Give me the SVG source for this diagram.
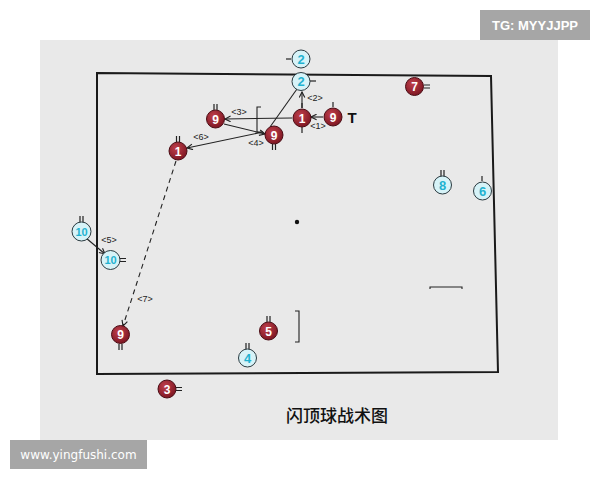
<svg xmlns="http://www.w3.org/2000/svg" width="600" height="480" viewBox="0 0 600 480">
<defs>
<marker id="ah" viewBox="0 0 10 10" refX="9" refY="5" markerWidth="7" markerHeight="7" orient="auto" markerUnits="userSpaceOnUse">
<path d="M1,1 L9,5 L1,9" fill="none" stroke="#222" stroke-width="1.6"/>
</marker>
<radialGradient id="rg" cx="40%" cy="35%" r="70%">
<stop offset="0" stop-color="#c0404c"/>
<stop offset="1" stop-color="#7a1420"/>
</radialGradient>
</defs>
<style>
.red circle{fill:url(#rg);stroke:#4a0c14;stroke-width:1}
.cy circle{fill:#d6f3f8;stroke:#2a3a40;stroke-width:1}
.red text{fill:#fff;font:bold 12px "Liberation Sans",Arial,sans-serif;text-anchor:middle}
.cy text{fill:#1fb2d0;font:bold 13px "Liberation Sans",Arial,sans-serif;text-anchor:middle}
.tk{stroke:#222;stroke-width:1.2;fill:none}
.ln{stroke:#222;stroke-width:1.1;fill:none}
.lb{font:9px "Liberation Sans",Arial,sans-serif;fill:#222;text-anchor:middle}
</style>
<rect x="0" y="0" width="600" height="480" fill="#fff"/>
<rect x="40" y="40" width="518" height="400" fill="#e9e9e9"/>
<g id="court">
<polygon points="97,73 491,76 498,372 97,374" fill="none" stroke="#1a1a1a" stroke-width="2"/>
<circle cx="297" cy="222" r="2.2" fill="#111"/>
<path class="ln" d="M430,289 L430,287 L462,287 L462,289" stroke-width="1.6"/>
<path class="ln" d="M261,107 L257,107 L257,132 L261,132" stroke-width="1.4"/>
<path class="ln" d="M295,311 L299,311 L299,342 L295,342" stroke-width="1.4"/>
</g>
<g id="connectors">
<line class="ln" x1="302" y1="108" x2="302" y2="92" marker-end="url(#ah)"/>
<line class="ln" x1="323" y1="117" x2="311" y2="117" marker-end="url(#ah)"/>
<line class="ln" x1="292" y1="118" x2="225" y2="119" marker-end="url(#ah)"/>
<line class="ln" x1="224" y1="124" x2="265" y2="134" marker-end="url(#ah)"/>
<line class="ln" x1="270" y1="127" x2="297" y2="89"/>
<line class="ln" x1="263" y1="132" x2="187" y2="148" marker-end="url(#ah)"/>
<line class="ln" x1="86" y1="238" x2="105" y2="254" marker-end="url(#ah)"/>
<line class="ln" x1="176" y1="161" x2="123" y2="326" stroke-dasharray="5,4" marker-end="url(#ah)"/>
<text class="lb" x="315" y="101">&lt;2&gt;</text>
<text class="lb" x="318" y="129">&lt;1&gt;</text>
<text class="lb" x="239" y="115">&lt;3&gt;</text>
<text class="lb" x="256" y="146">&lt;4&gt;</text>
<text class="lb" x="201" y="140">&lt;6&gt;</text>
<text class="lb" x="109" y="243">&lt;5&gt;</text>
<text class="lb" x="145" y="302">&lt;7&gt;</text>
</g>
<g id="n2a" class="cy"><path class="tk" d="M286,59 L291,59"/><circle cx="301" cy="59" r="9"/><text x="301" y="63.5">2</text></g>
<g id="n2b" class="cy"><path class="tk" d="M310,81 L316,81"/><circle cx="301" cy="81.5" r="9"/><text x="301" y="86">2</text></g>
<g id="n1a" class="red"><path class="tk" d="M302,103 L302,108 M302,127 L302,133"/><circle cx="302" cy="118" r="9"/><text x="302" y="122.5">1</text></g>
<g id="n9a" class="red"><path class="tk" d="M333,102 L333,107"/><circle cx="333" cy="117" r="9"/><text x="333" y="121.5">9</text></g>
<text x="352" y="123" font-family="Liberation Sans,Arial,sans-serif" font-weight="bold" font-size="15" fill="#111" text-anchor="middle">T</text>
<g id="n9b" class="red"><path class="tk" d="M214,104 L214,110 M217,104 L217,110"/><circle cx="215.5" cy="119" r="9"/><text x="215.5" y="123.5">9</text></g>
<g id="n9c" class="red"><path class="tk" d="M272.5,144 L272.5,150 M275.5,144 L275.5,150"/><circle cx="274" cy="135" r="9"/><text x="274" y="139.5">9</text></g>
<g id="n1b" class="red"><path class="tk" d="M176.5,136 L176.5,142 M179.5,136 L179.5,142"/><circle cx="178" cy="151" r="9"/><text x="178" y="155.5">1</text></g>
<g id="n7" class="red"><path class="tk" d="M424,85 L430,85 M424,88 L430,88"/><circle cx="414.5" cy="86.5" r="9"/><text x="414.5" y="91">7</text></g>
<g id="n8" class="cy"><path class="tk" d="M441,170 L441,176 M444,170 L444,176"/><circle cx="442.5" cy="185" r="9"/><text x="442.5" y="189.5">8</text></g>
<g id="n6" class="cy"><path class="tk" d="M482,176 L482,181"/><circle cx="482.5" cy="191" r="9"/><text x="482.5" y="195.5">6</text></g>
<g id="n10a" class="cy"><path class="tk" d="M80,216 L80,222 M83,216 L83,222"/><circle cx="81.5" cy="231.5" r="9.5"/><text x="81.5" y="235.5" style="font-size:11px">10</text></g>
<g id="n10b" class="cy"><path class="tk" d="M120,258.5 L126,258.5 M120,261.5 L126,261.5"/><circle cx="110.5" cy="260" r="9.5"/><text x="110.5" y="264" style="font-size:11px">10</text></g>
<g id="n9d" class="red"><path class="tk" d="M119,344 L119,350 M122,344 L122,350"/><circle cx="120.5" cy="334.5" r="9"/><text x="120.5" y="339">9</text></g>
<g id="n5" class="red"><path class="tk" d="M267,316 L267,322 M270,316 L270,322"/><circle cx="268.5" cy="331" r="9"/><text x="268.5" y="335.5">5</text></g>
<g id="n4" class="cy"><path class="tk" d="M246,343 L246,349 M249,343 L249,349"/><circle cx="247.5" cy="358" r="9"/><text x="247.5" y="362.5">4</text></g>
<g id="n3" class="red"><path class="tk" d="M176,387.5 L182,387.5 M176,390.5 L182,390.5"/><circle cx="167" cy="389" r="9"/><text x="167" y="393.5">3</text></g>
<text x="337" y="422" font-family="Noto Sans CJK SC,sans-serif" font-size="17" font-weight="500" fill="#111" text-anchor="middle">闪顶球战术图</text>
<rect x="480" y="10" width="110" height="30" fill="#a6a6a6"/>
<text x="535" y="30" font-family="Liberation Sans,Arial,sans-serif" font-size="13" font-weight="bold" fill="#fff" text-anchor="middle">TG: MYYJJPP</text>
<rect x="10" y="440" width="137" height="29" fill="#a6a6a6"/>
<text x="78.5" y="459" font-family="DejaVu Sans,sans-serif" font-size="12" fill="#fff" text-anchor="middle">www.yingfushi.com</text>
</svg>
